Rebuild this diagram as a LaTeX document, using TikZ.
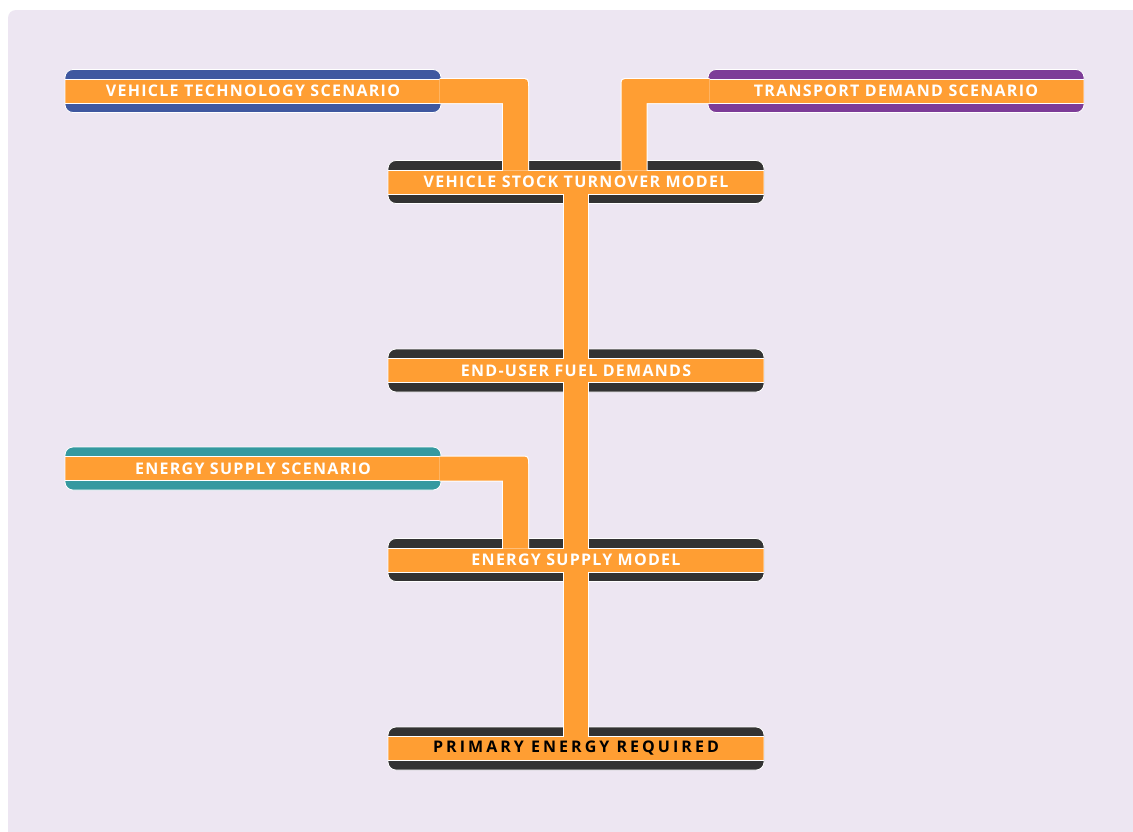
\documentclass[tikz,border=0pt]{standalone}
\usepackage{fontspec}
\setmainfont{Open Sans}
\usetikzlibrary{calc}
\definecolor{bg}{RGB}{237,230,242}
\definecolor{vtblue}{RGB}{63,88,160}
\definecolor{tdpurple}{RGB}{125,60,152}
\definecolor{esteal}{RGB}{53,153,160}
\definecolor{dark}{RGB}{51,51,51}
\definecolor{orng}{RGB}{255,158,51}
\newcommand\elbowpath[6]{% #1 colour, #2 grow, #3 start, #4 bend, #5 end, #6 sign
  \fill[#1] ($(#3)+({-(#6)*1.5pt},{12pt+#2})$) -- ($(#4)+({(#6)*4.5pt},{12pt+#2})$)
    .. controls ($(#4)+({(#6)*(12.5pt+#2)},{12pt+#2})$) .. ($(#4)+({(#6)*(12.5pt+#2)},4pt)$)
    -- ($(#4 |- #5)+({(#6)*(12.5pt+#2)},11.5pt)$)
    -- ($(#4 |- #5)+({-(#6)*(12.5pt+#2)},11.5pt)$)
    -- ($(#4)+({-(#6)*(12.5pt+#2)},{-12pt-#2})$)
    -- ($(#3)+({-(#6)*1.5pt},{-12pt-#2})$) -- cycle;}
\newcommand\trunkpath[3]{% #1 colour, #2 from node, #3 to node
  \fill[#1] ($(#2.center)+(-12pt,-11.5pt)$) rectangle ($(#3.center)+(12pt,11.5pt)$);}
\begin{document}
\begin{tikzpicture}[x=1pt,y=-1pt,
  box/.style={minimum width=376pt, minimum height=43pt, inner sep=0pt, outer sep=0pt,
    rounded corners=8pt, draw=white, line width=0.8pt, fill=#1, text=white,
    font=\bfseries\fontsize{16}{16}\selectfont\addfontfeatures{LetterSpace=8},
    path picture={
      \fill[orng, sharp corners] ($(path picture bounding box.west)+(0,-12pt)$) rectangle ($(path picture bounding box.east)+(0,12pt)$);
      \draw[white, line width=0.8pt, sharp corners] ($(path picture bounding box.west)+(0,-12pt)$) -- ($(path picture bounding box.east)+(0,-12pt)$);
      \draw[white, line width=0.8pt, sharp corners] ($(path picture bounding box.west)+(0,12pt)$) -- ($(path picture bounding box.east)+(0,12pt)$);
    }},
  blackbox/.style={box=dark, text=black,
    font=\bfseries\fontsize{16}{16}\selectfont\addfontfeatures{LetterSpace=19}}
]
\useasboundingbox (0,0) rectangle (1133,831);
\fill[white] (0,0) rectangle (1133,831);
\fill[bg, rounded corners=8pt] (8,10) rectangle (1160,860);

\node[box=vtblue] (vt) at (253,91) {VEHICLE TECHNOLOGY SCENARIO};
\node[box=tdpurple] (td) at (896,91) {TRANSPORT DEMAND SCENARIO};
\node[box=dark] (stock) at (576,182) {VEHICLE STOCK TURNOVER MODEL};
\node[box=dark] (eu) at (576,370.5) {END-USER FUEL DEMANDS};
\node[box=esteal] (ess) at (253,468.5) {ENERGY SUPPLY SCENARIO};
\node[box=dark] (esm) at (576,560) {ENERGY SUPPLY MODEL};
\node[blackbox] (per) at (576,748.5) {PRIMARY ENERGY REQUIRED};

\coordinate (j1) at (515.5,91);
\coordinate (j2) at (634,91);
\coordinate (j3) at (515.5,468.5);

\elbowpath{white}{1pt}{vt.east}{j1}{stock.center}{1}
\elbowpath{orng}{0pt}{vt.east}{j1}{stock.center}{1}
\elbowpath{white}{1pt}{td.west}{j2}{stock.center}{-1}
\elbowpath{orng}{0pt}{td.west}{j2}{stock.center}{-1}
\elbowpath{white}{1pt}{ess.east}{j3}{esm.center}{1}
\elbowpath{orng}{0pt}{ess.east}{j3}{esm.center}{1}

\fill[white] ($(stock.center)+(-13pt,-11.5pt)$) rectangle ($(eu.center)+(13pt,11.5pt)$);
\trunkpath{orng}{stock}{eu}
\fill[white] ($(eu.center)+(-13pt,-11.5pt)$) rectangle ($(esm.center)+(13pt,11.5pt)$);
\trunkpath{orng}{eu}{esm}
\fill[white] ($(esm.center)+(-13pt,-11.5pt)$) rectangle ($(per.center)+(13pt,11.5pt)$);
\trunkpath{orng}{esm}{per}
\end{tikzpicture}
\end{document}
